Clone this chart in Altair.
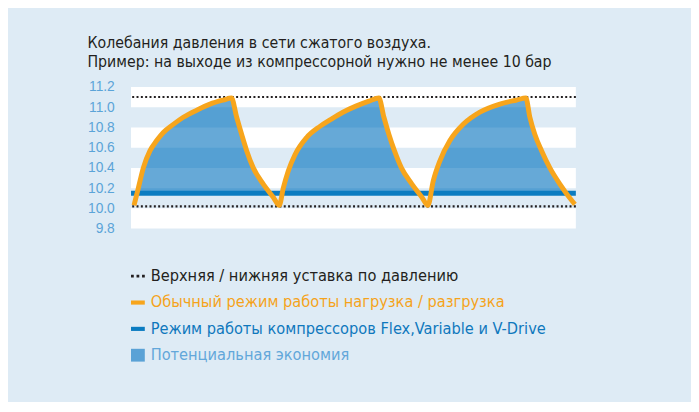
import altair as alt
import pandas as pd

# ---- data ----
curve_x = [3, 7.3, 12.3, 19, 25.7, 32.3, 42.3, 52.3, 65.7, 79, 92.3, 100.5,
           105.7, 110.7, 115.7, 122.3, 132.3, 142.3, 148.3,
           152.3, 157.3, 164, 175.7, 189, 200, 212, 225, 238, 248,
           253, 258, 263.5, 270.5, 281, 291, 297,
           302.3, 309, 319, 332.3, 349, 369, 385.7, 395,
           399, 404, 410.7, 419, 429, 442.3, 444]
curve_p = [10.03, 10.20, 10.40, 10.57, 10.67, 10.75, 10.83, 10.90, 10.97, 11.03, 11.07, 11.09,
           10.90, 10.73, 10.57, 10.40, 10.24, 10.11, 10.03,
           10.20, 10.37, 10.53, 10.70, 10.81, 10.88, 10.95, 11.01, 11.06, 11.09,
           10.90, 10.73, 10.57, 10.40, 10.24, 10.11, 10.03,
           10.27, 10.47, 10.67, 10.83, 10.95, 11.03, 11.07, 11.09,
           10.90, 10.73, 10.57, 10.40, 10.24, 10.06, 10.04]
setpoints = [10.02, 11.1]
flex_level = [10.15]
band_lo = [9.8, 10.2, 10.6, 11.0]
band_hi = [10.0, 10.4, 10.8, 11.2]
y_ticks = [9.8, 10.0, 10.2, 10.4, 10.6, 10.8, 11.0, 11.2]
X_MIN, X_MAX = 0, 445

legend_labels = ["Верхняя / нижняя уставка по давлению",
                 "Обычный режим работы нагрузка / разгрузка",
                 "Режим работы компрессоров Flex,Variable и V-Drive",
                 "Потенциальная экономия"]
legend_colors = ["#231f20", "#f5a31b", "#0f78bd", "#62a7da"]
legend_shapes = ["M-1,-0.2h0.4v0.4h-0.4z M-0.2,-0.2h0.4v0.4h-0.4z M0.6,-0.2h0.4v0.4h-0.4z",
                 "M-1,-0.3H1V0.3H-1Z",
                 "M-1,-0.3H1V0.3H-1Z",
                 "M-1,-0.93H1V0.93H-1Z"]
legend_symbol_colors = ["#231f20", "#f7a51c", "#0b7cc1", "#5aa2d6"]

title_lines = ["Колебания давления в сети сжатого воздуха.",
               "Пример: на выходе из компрессорной нужно не менее 10 бар"]

BG = "#deebf5"
FONT = "'DejaVu Sans Condensed', sans-serif"

curve = pd.DataFrame({"x": curve_x, "p": curve_p})
bands = pd.DataFrame({"lo": band_lo, "hi": band_hi,
                      "xs": [X_MIN] * len(band_lo), "xe": [X_MAX] * len(band_lo)})
sp = pd.DataFrame({"lvl": setpoints})
flex = pd.DataFrame({"lvl": flex_level})
leg = pd.DataFrame({"label": legend_labels, "tc": legend_colors,
                    "shape": legend_shapes, "sc": legend_symbol_colors,
                    "order": list(range(len(legend_labels)))})

xs = alt.Scale(domain=[X_MIN, X_MAX], nice=False, zero=False)
ys = alt.Scale(domain=[9.8, 11.2], nice=False, zero=False)
yaxis = alt.Axis(values=y_ticks, format=".1f", ticks=False, domain=False, grid=False,
                 labelColor="#5ba4d8", labelFont="Liberation Sans", labelFontSize=14,
                 labelPadding=17, title=None, minExtent=43, maxExtent=43)


def Y(field):
    return alt.Y(field, scale=ys, axis=yaxis, title=None)


def X(field):
    return alt.X(field, scale=xs, axis=None, title=None)


band_layer = alt.Chart(bands).mark_rect(color="white").encode(
    x=X("xs:Q"), x2="xe:Q", y=Y("lo:Q"), y2="hi:Q")

area_layer = alt.Chart(curve).transform_calculate(
    top="max(datum.p, 10.15)", base="10.15"
).mark_area(color="#55a0d3", opacity=1, interpolate="monotone").encode(
    x=X("x:Q"), y=Y("top:Q"), y2="base:Q")

band_overlay = alt.Chart(bands).mark_rect(color="white", opacity=0.1).encode(
    x=X("xs:Q"), x2="xe:Q", y=Y("lo:Q"), y2="hi:Q")

flex_layer = alt.Chart(flex).mark_rule(color="#0b7cc1", strokeWidth=5).encode(y=Y("lvl:Q"))

sp_layer = alt.Chart(sp).mark_rule(color="#231f20", strokeWidth=2.2,
                                   strokeDash=[2, 2.4]).encode(y=Y("lvl:Q"))

line_layer = alt.Chart(curve).mark_line(color="#f7a51c", strokeWidth=5,
                                        interpolate="monotone").encode(
    x=X("x:Q"), y=Y("p:Q"))

main = alt.layer(band_layer, area_layer, band_overlay, flex_layer, sp_layer,
                 line_layer).properties(width=452, height=144)

ly = alt.Y("order:O", axis=None, scale=alt.Scale(paddingInner=0, paddingOuter=0))
leg_sym = alt.Chart(leg).mark_point(filled=True, size=196, opacity=1, strokeWidth=0).encode(
    x=alt.value(7), y=ly, shape=alt.Shape("shape:N", scale=None),
    color=alt.Color("sc:N", scale=None))
leg_txt = alt.Chart(leg).mark_text(align="left", baseline="middle", font=FONT,
                                   fontSize=16.5).encode(
    x=alt.value(20), y=ly, text="label:N", color=alt.Color("tc:N", scale=None))
legend_panel = alt.layer(leg_sym, leg_txt).properties(width=452, height=107)

chart = alt.vconcat(main, legend_panel, spacing=28).properties(
    title=alt.Title(title_lines, anchor="start", frame="bounds", font=FONT,
                    fontSize=16, fontWeight="normal", color="#231f20",
                    lineHeight=20, offset=10),
    padding={"left": 80, "top": 24, "right": 108, "bottom": 31},
    background=BG,
).configure_view(strokeWidth=0)

chart.save("out.html", embed_options={"renderer": "svg", "actions": False})
